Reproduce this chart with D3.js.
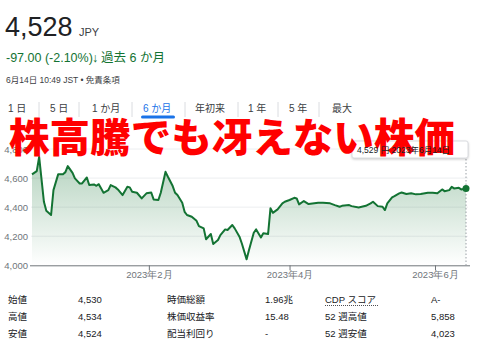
<!DOCTYPE html>
<html><head><meta charset="utf-8">
<script src="https://cdn.jsdelivr.net/npm/d3@7"></script>
<style>
html,body{margin:0;padding:0;background:#fff;}
svg{display:block;font-family:"Liberation Sans",Arial,"Noto Sans CJK JP",sans-serif;}
</style></head><body>
<script>
const dates = ["2022-12-14","2022-12-16","2022-12-17","2022-12-19","2022-12-20","2022-12-22","2022-12-23","2022-12-25","2022-12-27","2022-12-28","2022-12-29","2022-12-31",
"2023-01-01","2023-01-03","2023-01-04","2023-01-06","2023-01-07","2023-01-09","2023-01-10","2023-01-11","2023-01-13","2023-01-15","2023-01-16","2023-01-18","2023-01-19","2023-01-21","2023-01-23","2023-01-24","2023-01-25","2023-01-27","2023-01-29","2023-01-31",
"2023-02-02","2023-02-03","2023-02-05","2023-02-06","2023-02-08","2023-02-09","2023-02-11","2023-02-12","2023-02-13","2023-02-15","2023-02-16","2023-02-17","2023-02-19","2023-02-21","2023-02-22","2023-02-24","2023-02-25","2023-02-27","2023-02-28",
"2023-03-02","2023-03-03","2023-03-05","2023-03-06","2023-03-08","2023-03-09","2023-03-11","2023-03-12","2023-03-14","2023-03-15","2023-03-17","2023-03-18","2023-03-20","2023-03-21","2023-03-23","2023-03-24","2023-03-25","2023-03-27","2023-03-29","2023-03-30",
"2023-04-01","2023-04-03","2023-04-04","2023-04-05","2023-04-07","2023-04-09","2023-04-13","2023-04-15","2023-04-18","2023-04-20","2023-04-22","2023-04-23","2023-04-26","2023-04-27","2023-04-30",
"2023-05-03","2023-05-05","2023-05-06","2023-05-08","2023-05-10","2023-05-11","2023-05-12","2023-05-14","2023-05-15","2023-05-17","2023-05-18","2023-05-20","2023-05-22","2023-05-24","2023-05-26","2023-05-29","2023-05-31",
"2023-06-02","2023-06-04","2023-06-05","2023-06-07","2023-06-08","2023-06-09","2023-06-11","2023-06-12","2023-06-14"];
const prices = [4625,4648,4746,4437,4375,4346,4517,4627,4627,4641,4682,4636,
4598,4563,4563,4604,4552,4556,4547,4558,4499,4517,4552,4536,4522,4483,4540,4536,4506,4499,4460,4495,
4501,4453,4449,4499,4643,4609,4545,4499,4483,4430,4368,4346,4334,4306,4270,4254,4179,4215,4146,
4174,4208,4247,4243,4277,4254,4197,4150,4041,4105,4224,4247,4192,4220,4215,4392,4361,4385,4426,4437,
4449,4464,4460,4419,4442,4421,4430,4430,4426,4414,4403,4409,4414,4407,4398,
4409,4426,4437,4407,4403,4380,4426,4467,4476,4495,4501,4490,4495,4488,4490,4499,4499,
4495,4522,4510,4517,4540,4529,4533,4522,4528];
const yTicks = [4000,4200,4400,4600,4800];
const xTickDates = ["2023-02-01","2023-04-01","2023-06-01"];
const xTickLabels = ["2023年2月","2023年4月","2023年6月"];
const tabs = ["1 日","5 日","1 か月","6 か月","年初来","1 年","5 年","最大"];
const statLabels1 = ["始値","高値","安値"];
const statValues1 = ["4,530","4,534","4,524"];
const statLabels2 = ["時価総額","株価収益率","配当利回り"];
const statValues2 = ["1.96兆","15.48","-"];
const statLabels3 = ["CDP スコア","52 週高値","52 週安値"];
const statValues3 = ["A-","5,858","4,023"];

const parse = d3.timeParse("%Y-%m-%d");
const data = dates.map((d,i)=>({date:parse(d), v:prices[i]}));

const W=480,H=360;
const svg = d3.select("body").append("svg").attr("width",W).attr("height",H);

// header
svg.append("text").attr("x",5).attr("y",36).attr("font-size",27).attr("fill","#202124").text("4,528");
svg.append("text").attr("x",79).attr("y",36).attr("font-size",11).attr("fill","#3c4043").text("JPY");
svg.append("text").attr("x",6).attr("y",62).attr("font-size",12.5).attr("fill","#137333").text("-97.00 (-2.10%) ");
// arrow
svg.append("text").attr("x",92).attr("y",62).attr("font-size",12.5).attr("font-weight","bold").attr("fill","#137333").text("↓");
svg.append("text").attr("x",101).attr("y",62).attr("font-size",12.5).attr("fill","#137333").text("過去 6 か月");
svg.append("text").attr("x",6).attr("y",83).attr("font-size",8.5).attr("fill","#3c4043").text("6月14日 10:49 JST • 免責条項");

// tabs
const tabX = [8,50,92,143,195,248,289,332];
const sepX = [39,79,132,185,238,278,319];
svg.selectAll(".tab").data(tabs).join("text").attr("class","tab")
  .attr("x",(d,i)=>tabX[i]).attr("y",112).attr("font-size",10)
  .attr("fill",(d,i)=>i===3?"#1a73e8":"#3c4043").text(d=>d);
svg.selectAll(".sep").data(sepX).join("line").attr("class","sep")
  .attr("x1",d=>d).attr("x2",d=>d).attr("y1",102).attr("y2",117)
  .attr("stroke","#dadce0").attr("stroke-width",1);
svg.append("rect").attr("x",141).attr("y",115.5).attr("width",34).attr("height",3).attr("rx",1.5).attr("fill","#1a73e8");

// scales
const x = d3.scaleTime().domain([parse("2022-12-14"),parse("2023-06-14")]).range([32,466]);
const y = d3.scaleLinear().domain([4000,4800]).range([265.3,149]);

// gridlines
svg.append("g").selectAll("line").data(yTicks.slice(1)).join("line")
  .attr("x1",31).attr("x2",468).attr("y1",d=>y(d)).attr("y2",d=>y(d))
  .attr("stroke","#eceef0").attr("stroke-width",1);

// y axis labels
const yAxis = d3.axisLeft(y).tickValues(yTicks).tickFormat(d3.format(",")).tickSize(0).tickPadding(3);
const gy = svg.append("g").attr("transform","translate(31,0)").call(yAxis);
gy.select(".domain").remove();
gy.selectAll("text").attr("font-size",9.5).attr("fill","#70757a").attr("font-family",null);

// gradient
const defs = svg.append("defs");
const grad = defs.append("linearGradient").attr("id","g1").attr("x1",0).attr("y1",0).attr("x2",0).attr("y2",1);
grad.append("stop").attr("offset","0%").attr("stop-color","#137333").attr("stop-opacity",0.32);
grad.append("stop").attr("offset","100%").attr("stop-color","#137333").attr("stop-opacity",0);

const area = d3.area().x(d=>x(d.date)).y0(y(4000)).y1(d=>y(d.v));
svg.append("path").datum(data).attr("d",area).attr("fill","url(#g1)");

// x axis
const xAxis = d3.axisBottom(x).tickValues(xTickDates.map(parse))
  .tickFormat((d,i)=>xTickLabels[i]).tickSize(5).tickSizeOuter(0).tickPadding(1);
const gx = svg.append("g").attr("transform",`translate(0,${y(4000)})`).call(xAxis);
gx.select(".domain").attr("d",`M30,0.5H470`).attr("stroke","#70757a");
gx.selectAll(".tick line").attr("stroke","#70757a");
gx.selectAll("text").attr("font-size",9.5).attr("fill","#70757a").attr("font-family",null);

// hover dotted line
const last = data[data.length-1];
svg.append("line").attr("x1",x(last.date)).attr("x2",x(last.date)).attr("y1",152).attr("y2",y(4000))
  .attr("stroke","#9aa0a6").attr("stroke-width",1).attr("stroke-dasharray","1.5,2");

// line
const line = d3.line().x(d=>x(d.date)).y(d=>y(d.v));
svg.append("path").datum(data).attr("d",line).attr("fill","none")
  .attr("stroke","#137333").attr("stroke-width",2).attr("stroke-linejoin","round");
svg.append("circle").attr("cx",x(last.date)).attr("cy",y(last.v)).attr("r",3.5).attr("fill","#137333");

// tooltip box
svg.append("rect").attr("x",352).attr("y",141).attr("width",116).attr("height",17).attr("rx",2)
  .attr("fill","#fff").attr("stroke","#dadce0").attr("stroke-width",1)
  .style("filter","drop-shadow(0px 1px 1px rgba(0,0,0,0.2))");

// big red caption
svg.append("text").attr("x",9).attr("y",152).attr("font-size",40).attr("font-weight",900)
  .attr("font-family","'Noto Sans CJK JP',sans-serif").attr("fill","#ff0000")
  .attr("textLength",446).attr("lengthAdjust","spacingAndGlyphs")
  .text("株高騰でも冴えない株価");

svg.append("text").attr("x",357).attr("y",153).attr("font-size",8.5).attr("fill","#202124")
  .text("4,529 円  2023年6月14日");

// stats table
const rowsY = [303,320,337];
function col(labels, xx, color, extra){
  svg.append("g").selectAll("text").data(labels).join("text")
    .attr("x",xx).attr("y",(d,i)=>rowsY[i]).attr("font-size",9.5).attr("fill",color||"#202124").text(d=>d);
}
col(statLabels1,8);
col(statValues1,78);
col(statLabels2,167);
col(statValues2,265);
col(statLabels3,325);
col(statValues3,431);
// dotted underline for CDP
svg.append("line").attr("x1",325).attr("x2",379).attr("y1",305.5).attr("y2",305.5)
  .attr("stroke","#202124").attr("stroke-width",0.8).attr("stroke-dasharray","1,1");
</script>
</body></html>
